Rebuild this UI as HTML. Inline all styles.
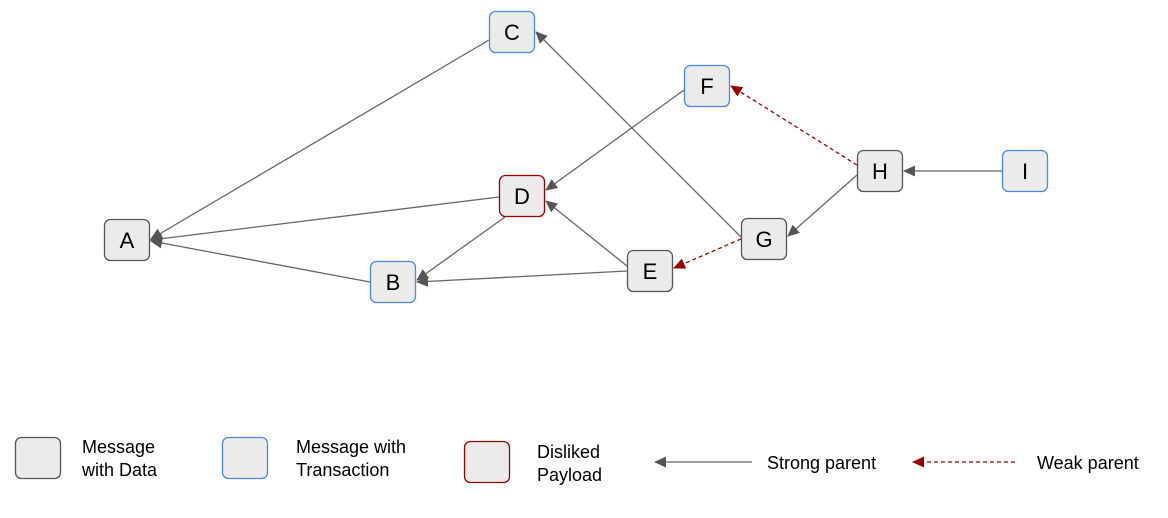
<!DOCTYPE html>
<html><head><style>
body{margin:0;background:#fff;width:1168px;height:518px;overflow:hidden;font-family:"Liberation Sans",Arial,sans-serif}
.t{position:absolute;font-size:18px;line-height:23px;color:#000}
</style></head><body>
<svg width="1168" height="518" style="position:absolute;left:0;top:0" font-family="Liberation Sans, Arial, sans-serif">
<defs>
<marker id="g" markerWidth="12" markerHeight="12" refX="11" refY="5.5" orient="auto" markerUnits="userSpaceOnUse"><path d="M0,0 L12,5.5 L0,11 z" fill="#555"/></marker>
<marker id="r" markerWidth="12" markerHeight="12" refX="11" refY="5.5" orient="auto" markerUnits="userSpaceOnUse"><path d="M0,0 L12,5.5 L0,11 z" fill="#990000"/></marker>
</defs>
<g stroke="#666" stroke-width="1.3" fill="none" marker-end="url(#g)">
<line x1="489" y1="40" x2="151" y2="239"/>
<line x1="499" y1="197" x2="151" y2="240"/>
<line x1="370" y1="282" x2="151" y2="241"/>
<line x1="684" y1="90" x2="546" y2="190"/>
<line x1="505" y1="217" x2="417" y2="280"/>
<line x1="627" y1="266" x2="546" y2="201"/>
<line x1="627" y1="271" x2="417" y2="282"/>
<line x1="741" y1="237" x2="536" y2="32"/>
<line x1="857" y1="175" x2="788" y2="236"/>
<line x1="1002" y1="171" x2="904" y2="171"/>
<line x1="752" y1="462" x2="655" y2="462"/>
</g>
<g stroke="#990000" stroke-width="1.3" fill="none" stroke-dasharray="4,3" marker-end="url(#r)">
<line x1="741" y1="239" x2="674" y2="268"/>
<line x1="857" y1="165" x2="731" y2="86"/>
<line x1="1015" y1="462" x2="913" y2="462"/>
</g>
<g fill="#ebebeb" stroke-width="1.3">
<rect x="489.5" y="11.5" width="45" height="41" rx="6" stroke="#4a86e8"/>
<rect x="684.5" y="65.5" width="45" height="41" rx="6" stroke="#4a86e8"/>
<rect x="499.5" y="175.5" width="45" height="41" rx="6" stroke="#990000"/>
<rect x="857.5" y="150.5" width="45" height="41" rx="6" stroke="#555"/>
<rect x="1002.5" y="150.5" width="45" height="41" rx="6" stroke="#4a86e8"/>
<rect x="104.5" y="219.5" width="45" height="41" rx="6" stroke="#555"/>
<rect x="741.5" y="218.5" width="45" height="41" rx="6" stroke="#555"/>
<rect x="627.5" y="250.5" width="45" height="41" rx="6" stroke="#555"/>
<rect x="370.5" y="261.5" width="45" height="41" rx="6" stroke="#4a86e8"/>
<rect x="15.5" y="437.5" width="45" height="41" rx="6" stroke="#555"/>
<rect x="222.5" y="437.5" width="45" height="41" rx="6" stroke="#4a86e8"/>
<rect x="464.5" y="441.5" width="45" height="41" rx="6" stroke="#990000"/>
</g>
<g font-size="22" text-anchor="middle" fill="#000">
<text x="512" y="40">C</text>
<text x="707" y="94">F</text>
<text x="522" y="204">D</text>
<text x="880" y="179">H</text>
<text x="1025" y="179">I</text>
<text x="127" y="248">A</text>
<text x="764" y="247">G</text>
<text x="650" y="279">E</text>
<text x="393" y="290">B</text>
</g>
</svg>
<div class="t" style="left:82px;top:436px">Message<br>with Data</div>
<div class="t" style="left:296px;top:436px">Message with<br>Transaction</div>
<div class="t" style="left:537px;top:441px">Disliked<br>Payload</div>
<div class="t" style="left:767px;top:452px">Strong parent</div>
<div class="t" style="left:1037px;top:452px">Weak parent</div>
</body></html>
